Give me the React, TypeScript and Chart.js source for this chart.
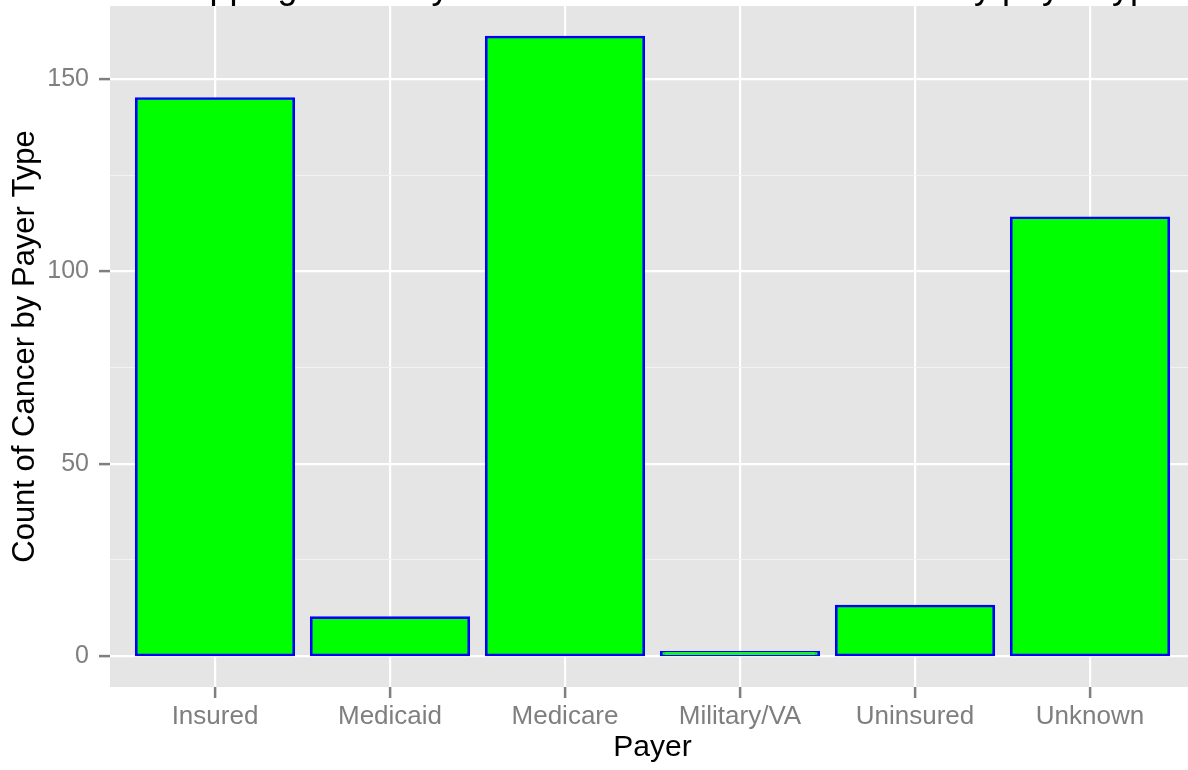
import React, { useEffect, useRef } from 'react';
import { Chart, registerables } from 'chart.js';

Chart.register(...registerables);

const TITLE = 'Mapping cases by Cancer Site and Health Status by payer type';
const X_TITLE = 'Payer';
const Y_TITLE = 'Count of Cancer by Payer Type';
const categories = ['Insured', 'Medicaid', 'Medicare', 'Military/VA', 'Uninsured', 'Unknown'];
const counts = [145, 10, 161, 1, 13, 114];
const yMajorTicks = [0, 50, 100, 150];
const yMinorTicks = [25, 75, 125];

const CANVAS_W = 1210;
const CANVAS_H = 770;
const FONT = "'Liberation Sans', Arial, Helvetica, sans-serif";

export default function App() {
  const ref = useRef<HTMLCanvasElement>(null);

  useEffect(() => {
    const canvas = ref.current;
    if (!canvas) return;
    Chart.defaults.font.family = FONT;

    const yMaxData = Math.max(...counts);
    const expand = yMaxData * 0.05;

    const panelBg = {
      id: 'panelBg',
      beforeDraw(chart: any) {
        const { ctx, chartArea: a } = chart;
        ctx.save();
        ctx.fillStyle = '#E5E5E5';
        ctx.fillRect(a.left, a.top, a.right - a.left, a.bottom - a.top);
        ctx.restore();
      },
    };

    const clippedTitle = {
      id: 'clippedTitle',
      afterDraw(chart: any) {
        const { ctx } = chart;
        ctx.save();
        ctx.font = `36px ${FONT}`;
        ctx.fillStyle = '#000000';
        ctx.textAlign = 'right';
        ctx.textBaseline = 'alphabetic';
        ctx.fillText(TITLE, 1170, -2.5);
        ctx.restore();
      },
    };

    const isMajor = (v: number) => yMajorTicks.includes(v);

    const chart = new Chart(canvas, {
      type: 'bar',
      data: {
        datasets: [
          {
            data: categories.map((c, i) => ({ x: i, y: counts[i] })),
            backgroundColor: '#00FF00',
            borderColor: '#0000FF',
            borderWidth: 2.6,
            borderSkipped: false,
            inflateAmount: 1.3,
            barPercentage: 0.9,
            categoryPercentage: 1,
          },
        ],
      },
      options: {
        responsive: false,
        animation: false,
        devicePixelRatio: 1,
        layout: { padding: { top: 6, right: CANVAS_W - 1195, bottom: 0, left: 0 } },
        plugins: {
          legend: { display: false },
          title: { display: false },
          tooltip: { enabled: false },
        },
        scales: {
          x: {
            type: 'linear',
            min: -0.6,
            max: categories.length - 1 + 0.6,
            offset: false,
            afterBuildTicks: (s: any) => {
              s.ticks = categories.map((_, i) => ({ value: i }));
            },
            afterFit: (s: any) => {
              s.height = 83;
              s.paddingLeft = 0;
              s.paddingRight = 0;
            },
            grid: {
              offset: false,
              color: '#FFFFFF',
              lineWidth: 2.2,
              tickColor: '#7F7F7F',
              tickWidth: 2.5,
              tickLength: 11,
              drawTicks: true,
            },
            border: { display: false },
            ticks: {
              callback: (v: any) => categories[v] ?? '',
              color: '#7F7F7F',
              font: { size: 26 },
              padding: 3,
              maxRotation: 0,
              minRotation: 0,
              autoSkip: false,
            },
            title: {
              display: true,
              text: X_TITLE,
              color: '#000000',
              font: { size: 30 },
              padding: { top: 0, bottom: 4 },
            },
          },
          y: {
            type: 'linear',
            min: -expand,
            max: yMaxData + expand,
            afterBuildTicks: (s: any) => {
              s.ticks = [...yMajorTicks, ...yMinorTicks].sort((a, b) => a - b).map((v) => ({ value: v }));
            },
            afterFit: (s: any) => {
              s.width = 110;
              s.paddingTop = 0;
              s.paddingBottom = 0;
            },
            grid: {
              color: (c: any) => (isMajor(c.tick?.value) ? '#FFFFFF' : '#F2F2F2'),
              lineWidth: (c: any) => (isMajor(c.tick?.value) ? 2.2 : 1.1),
              tickColor: (c: any) => (isMajor(c.tick?.value) ? '#7F7F7F' : 'rgba(0,0,0,0)'),
              tickWidth: 2.5,
              tickLength: 11,
              drawTicks: true,
            },
            border: { display: false },
            ticks: {
              callback: (v: any) => (isMajor(v) ? String(v) : ''),
              color: '#7F7F7F',
              font: { size: 25 },
              padding: 10,
              autoSkip: false,
            },
            title: {
              display: true,
              text: Y_TITLE,
              color: '#000000',
              font: { size: 31 },
              padding: { top: 7, bottom: 0 },
            },
          },
        },
      } as any,
      plugins: [panelBg, clippedTitle],
    });

    return () => chart.destroy();
  }, []);

  return (
    <div
      style={{
        position: 'fixed',
        left: 0,
        top: 0,
        width: 1188,
        height: 770,
        overflow: 'hidden',
        background: '#FFFFFF',
      }}
    >
      <canvas
        ref={ref}
        width={CANVAS_W}
        height={CANVAS_H}
        style={{ display: 'block', width: CANVAS_W, height: CANVAS_H }}
      />
    </div>
  );
}
